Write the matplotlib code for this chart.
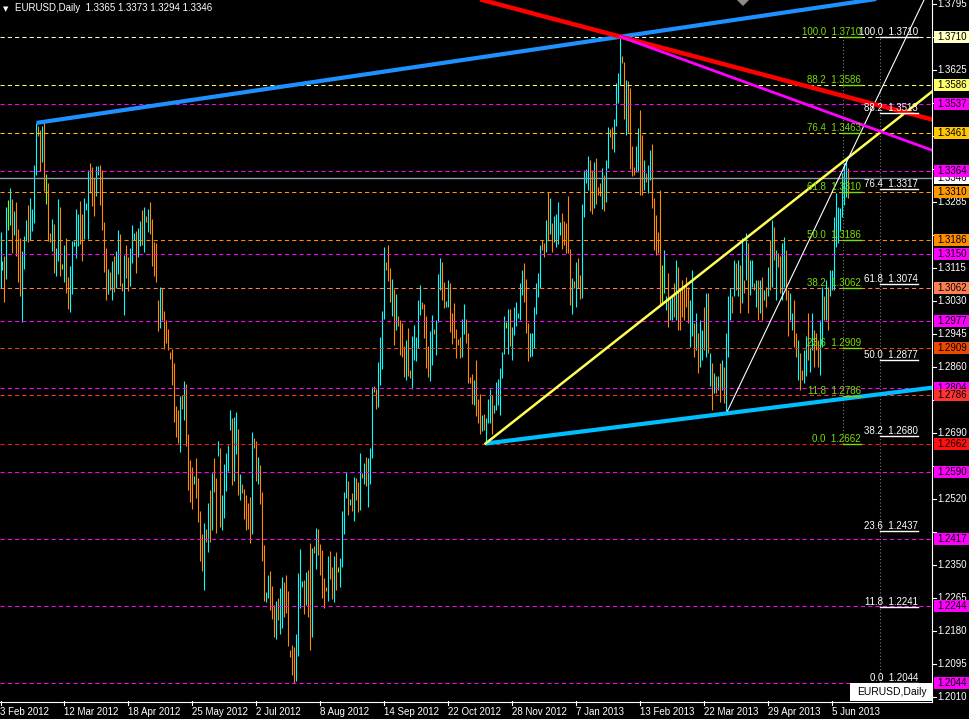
import matplotlib
matplotlib.use("Agg")
import matplotlib.pyplot as plt
from matplotlib.patches import Rectangle, Polygon
from matplotlib.lines import Line2D

# EURUSD daily bars, Feb 2012 - Jun 2013 (high / low)
highs = [
    1.3208, 1.3133, 1.3144, 1.3272, 1.3290, 1.3321, 1.3293, 1.3262, 1.3285, 1.3215,
    1.3192, 1.3159, 1.3197, 1.3239, 1.3277, 1.3295, 1.3267, 1.3380, 1.3488, 1.3479,
    1.3470, 1.3481, 1.3488, 1.3357, 1.3334, 1.3205, 1.3241, 1.3228, 1.3166, 1.3293,
    1.3272, 1.3125, 1.3174, 1.3192, 1.3092, 1.3120, 1.3184, 1.3184, 1.3267, 1.3254,
    1.3288, 1.3254, 1.3295, 1.3282, 1.3367, 1.3385, 1.3375, 1.3347, 1.3378, 1.3378,
    1.3380, 1.3367, 1.3233, 1.3166, 1.3112, 1.3105, 1.3133, 1.3146, 1.3159, 1.3213,
    1.3203, 1.3076, 1.3148, 1.3174, 1.3143, 1.3166, 1.3226, 1.3205, 1.3210, 1.3218,
    1.3236, 1.3264, 1.3272, 1.3249, 1.3267, 1.3285, 1.3241, 1.3182, 1.3179, 1.3032,
    1.3066, 1.3063, 1.3004, 1.2981, 1.2958, 1.2898, 1.2906, 1.2870, 1.2759, 1.2749,
    1.2785, 1.2788, 1.2824, 1.2816, 1.2687, 1.2620, 1.2602, 1.2579, 1.2625, 1.2574,
    1.2489, 1.2429, 1.2458, 1.2442, 1.2509, 1.2543, 1.2587, 1.2625, 1.2573, 1.2669,
    1.2651, 1.2530, 1.2609, 1.2638, 1.2658, 1.2749, 1.2728, 1.2731, 1.2744, 1.2700,
    1.2584, 1.2558, 1.2545, 1.2530, 1.2509, 1.2524, 1.2692, 1.2676, 1.2669, 1.2628,
    1.2607, 1.2537, 1.2401, 1.2280, 1.2323, 1.2334, 1.2295, 1.2246, 1.2256, 1.2264,
    1.2290, 1.2318, 1.2305, 1.2323, 1.2282, 1.2130, 1.2143, 1.2138, 1.2171, 1.2329,
    1.2390, 1.2308, 1.2310, 1.2331, 1.2336, 1.2406, 1.2393, 1.2398, 1.2445, 1.2442,
    1.2403, 1.2388, 1.2316, 1.2293, 1.2372, 1.2385, 1.2344, 1.2372, 1.2383, 1.2344,
    1.2367, 1.2488, 1.2537, 1.2589, 1.2566, 1.2519, 1.2535, 1.2576, 1.2573, 1.2563,
    1.2638, 1.2586, 1.2612, 1.2628, 1.2625, 1.2651, 1.2808, 1.2811, 1.2803, 1.2872,
    1.2937, 1.3004, 1.3169, 1.3130, 1.3174, 1.3115, 1.3086, 1.3061, 1.3048, 1.2991,
    1.2981, 1.2973, 1.2914, 1.2929, 1.2960, 1.2852, 1.2939, 1.2968, 1.2937, 1.3032,
    1.3071, 1.3027, 1.3022, 1.2991, 1.2914, 1.2952, 1.2993, 1.2958, 1.2980, 1.3099,
    1.3140, 1.3130, 1.3078, 1.3029, 1.3084, 1.3076, 1.2999, 1.3024, 1.2957, 1.2932,
    1.2937, 1.2983, 1.3022, 1.2983, 1.2947, 1.2834, 1.2841, 1.2826, 1.2877, 1.2777,
    1.2790, 1.2736, 1.2738, 1.2728, 1.2777, 1.2803, 1.2787, 1.2761, 1.2821, 1.2828,
    1.2857, 1.2898, 1.2991, 1.2975, 1.3009, 1.3009, 1.2962, 1.3014, 1.3027, 1.2999,
    1.3076, 1.3109, 1.3127, 1.3086, 1.2973, 1.2947, 1.2947, 1.3014, 1.3076, 1.3102,
    1.3174, 1.3187, 1.3179, 1.3238, 1.3310, 1.3295, 1.3230, 1.3248, 1.3254, 1.3285,
    1.3233, 1.3256, 1.3236, 1.3230, 1.3300, 1.3163, 1.3089, 1.3081, 1.3130, 1.3140,
    1.3096, 1.3279, 1.3367, 1.3370, 1.3403, 1.3393, 1.3367, 1.3388, 1.3398, 1.3323,
    1.3334, 1.3372, 1.3354, 1.3393, 1.3478, 1.3473, 1.3478, 1.3498, 1.3591, 1.3617,
    1.3710, 1.3661, 1.3645, 1.3599, 1.3596, 1.3578, 1.3429, 1.3375, 1.3429, 1.3475,
    1.3522, 1.3457, 1.3393, 1.3359, 1.3380, 1.3419, 1.3434, 1.3295, 1.3251, 1.3207,
    1.3316, 1.3122, 1.3161, 1.3041, 1.3101, 1.3036, 1.3045, 1.3075, 1.3135, 1.3118,
    1.3058, 1.3084, 1.3066, 1.3092, 1.3066, 1.3032, 1.3109, 1.2972, 1.2998, 1.2946,
    1.2981, 1.2955, 1.3015, 1.3049, 1.3049, 1.2895, 1.2869, 1.2843, 1.2835, 1.2835,
    1.2869, 1.2877, 1.2860, 1.2946, 1.3041, 1.3062, 1.3041, 1.3135, 1.3127, 1.3135,
    1.3122, 1.3191, 1.3084, 1.3204, 1.3178, 1.3135, 1.3135, 1.3075, 1.3084, 1.3084,
    1.3084, 1.3092, 1.3058, 1.3066, 1.3118, 1.3187, 1.3238, 1.3221, 1.3161, 1.3152,
    1.3144, 1.3178, 1.3195, 1.3161, 1.3058, 1.3049, 1.2998, 1.3032, 1.2946, 1.2929,
    1.2895, 1.2852, 1.2903, 1.2938, 1.2998, 1.2912, 1.2998, 1.2955, 1.2946, 1.2929,
    1.2981, 1.3066, 1.3041, 1.3084, 1.3066, 1.3109, 1.3109, 1.3246, 1.3308, 1.3272,
    1.3269, 1.3359, 1.3385, 1.3393, 1.3373,
]
lows = [
    1.3064, 1.3110, 1.3026, 1.3087, 1.3213, 1.3226, 1.3153, 1.3200, 1.3144, 1.3079,
    1.3043, 1.2974, 1.3112, 1.3184, 1.3182, 1.3187, 1.3210, 1.3231, 1.3355, 1.3455,
    1.3365, 1.3388, 1.3313, 1.3280, 1.3184, 1.3182, 1.3159, 1.3102, 1.3094, 1.3133,
    1.3094, 1.3112, 1.3079, 1.3050, 1.3009, 1.3001, 1.3048, 1.3172, 1.3141, 1.3172,
    1.3177, 1.3133, 1.3190, 1.3264, 1.3190, 1.3308, 1.3275, 1.3249, 1.3300, 1.3355,
    1.3277, 1.3213, 1.3105, 1.3032, 1.3048, 1.3058, 1.3032, 1.3053, 1.3063, 1.3099,
    1.3068, 1.3056, 1.2994, 1.3089, 1.3056, 1.3068, 1.3128, 1.3187, 1.3102, 1.3143,
    1.3172, 1.3174, 1.3156, 1.3233, 1.3208, 1.3203, 1.3120, 1.3094, 1.3079, 1.2953,
    1.2960, 1.2981, 1.2906, 1.2922, 1.2904, 1.2880, 1.2813, 1.2718, 1.2679, 1.2664,
    1.2641, 1.2752, 1.2723, 1.2656, 1.2543, 1.2512, 1.2494, 1.2558, 1.2522, 1.2460,
    1.2360, 1.2334, 1.2285, 1.2409, 1.2383, 1.2409, 1.2440, 1.2538, 1.2432, 1.2630,
    1.2447, 1.2439, 1.2470, 1.2540, 1.2591, 1.2697, 1.2555, 1.2566, 1.2635, 1.2530,
    1.2517, 1.2535, 1.2468, 1.2439, 1.2442, 1.2406, 1.2429, 1.2651, 1.2566, 1.2558,
    1.2506, 1.2360, 1.2256, 1.2254, 1.2264, 1.2233, 1.2210, 1.2164, 1.2159, 1.2208,
    1.2171, 1.2187, 1.2215, 1.2226, 1.2141, 1.2112, 1.2066, 1.2044, 1.2050, 1.2115,
    1.2238, 1.2293, 1.2223, 1.2246, 1.2215, 1.2130, 1.2164, 1.2380, 1.2339, 1.2375,
    1.2323, 1.2264, 1.2238, 1.2282, 1.2256, 1.2313, 1.2262, 1.2254, 1.2285, 1.2331,
    1.2293, 1.2344, 1.2429, 1.2522, 1.2478, 1.2504, 1.2488, 1.2463, 1.2517, 1.2486,
    1.2491, 1.2573, 1.2558, 1.2553, 1.2499, 1.2558, 1.2625, 1.2795, 1.2751, 1.2756,
    1.2813, 1.2854, 1.2983, 1.3109, 1.3081, 1.3027, 1.2991, 1.2916, 1.2955, 1.2965,
    1.2890, 1.2885, 1.2834, 1.2826, 1.2836, 1.2831, 1.2803, 1.2878, 1.2875, 1.2908,
    1.2994, 1.3009, 1.2934, 1.2857, 1.2834, 1.2823, 1.2865, 1.2943, 1.2890, 1.2975,
    1.3058, 1.3032, 1.3011, 1.3014, 1.3015, 1.2950, 1.2919, 1.2934, 1.2883, 1.2916,
    1.2883, 1.2885, 1.2944, 1.2921, 1.2818, 1.2818, 1.2764, 1.2761, 1.2733, 1.2715,
    1.2687, 1.2694, 1.2697, 1.2662, 1.2715, 1.2715, 1.2687, 1.2740, 1.2749, 1.2761,
    1.2736, 1.2831, 1.2893, 1.2960, 1.2893, 1.2913, 1.2877, 1.2942, 1.2965, 1.2986,
    1.2980, 1.3045, 1.3027, 1.2947, 1.2875, 1.2885, 1.2888, 1.2908, 1.2996, 1.3040,
    1.3063, 1.3161, 1.3143, 1.3156, 1.3184, 1.3202, 1.3156, 1.3181, 1.3169, 1.3176,
    1.3200, 1.3163, 1.3174, 1.3153, 1.3153, 1.3019, 1.2996, 1.3063, 1.3014, 1.3063,
    1.3035, 1.3037, 1.3246, 1.3334, 1.3315, 1.3261, 1.3254, 1.3269, 1.3279, 1.3303,
    1.3300, 1.3267, 1.3261, 1.3285, 1.3372, 1.3452, 1.3421, 1.3413, 1.3480, 1.3540,
    1.3586, 1.3643, 1.3498, 1.3457, 1.3465, 1.3370, 1.3352, 1.3354, 1.3362, 1.3362,
    1.3303, 1.3303, 1.3316, 1.3336, 1.3308, 1.3341, 1.3269, 1.3161, 1.3148, 1.3153,
    1.3019, 1.3019, 1.3049, 1.3006, 1.2963, 1.2981, 1.2981, 1.2989, 1.2981, 1.2955,
    1.2955, 1.2989, 1.2981, 1.3015, 1.2972, 1.2912, 1.2938, 1.2886, 1.2903, 1.2843,
    1.2860, 1.2877, 1.2903, 1.2886, 1.2895, 1.2809, 1.2749, 1.2792, 1.2792, 1.2800,
    1.2770, 1.2800, 1.2766, 1.2746, 1.2886, 1.2981, 1.2998, 1.3041, 1.3058, 1.3041,
    1.2998, 1.3024, 1.3049, 1.3084, 1.2998, 1.3045, 1.3066, 1.3058, 1.3015, 1.2981,
    1.2998, 1.2981, 1.3032, 1.3015, 1.3041, 1.3058, 1.3066, 1.3135, 1.3032, 1.3118,
    1.3049, 1.3032, 1.3066, 1.3032, 1.2938, 1.2981, 1.2955, 1.2912, 1.2886, 1.2826,
    1.2800, 1.2826, 1.2817, 1.2835, 1.2877, 1.2847, 1.2903, 1.2860, 1.2903, 1.2860,
    1.2839, 1.2912, 1.2981, 1.2981, 1.2955, 1.3041, 1.3058, 1.3058, 1.3169, 1.3179,
    1.3212, 1.3246, 1.3277, 1.3298, 1.3294,
]
# u = up bar, d = down bar, n = doji
dirs = (
    "uudunududd" "duuuduuuud" "dudndduduu" "dnudduuuuu" "dduuuddduu"
    "ddddududuu" "ddudduuudu" "udududdddd" "uddddddddd" "ududdddudd"
    "ddudududdu" "duuuuuduud" "uddddduddu" "ddduudddud" "uudddddduu"
    "uududdudud" "dddduddudn" "uuuudududd" "ududuuuddu" "uuudddudud"
    "dddudduuuu" "udddduuduu" "udduuddddd" "duuddddudd" "duduuuduuu"
    "uuunuduuuu" "uuddduuuuu" "uddududuuu" "udddddudud" "duuuuddudd"
    "duduudduuu" "uddudddduu" "dduduudddd" "dnuuduudud" "ddddduudud"
    "uududududu" "duduuududu" "dududuudud" "ududududud" "duudduuddu"
    "dduuduuddd" "uududuuuuu" "uuuud"
)

date_bars = [0, 32, 64, 96, 128, 160, 192, 224, 256, 288, 320, 352, 384, 416]
date_labels = ["3 Feb 2012", "12 Mar 2012", "18 Apr 2012", "25 May 2012",
               "2 Jul 2012", "8 Aug 2012", "14 Sep 2012", "22 Oct 2012",
               "28 Nov 2012", "7 Jan 2013", "13 Feb 2013", "22 Mar 2013",
               "29 Apr 2013", "5 Jun 2013"]

price_ticks = [1.3795, 1.3710, 1.3625, 1.3540, 1.3455, 1.3370, 1.3285, 1.3200,
               1.3115, 1.3030, 1.2945, 1.2860, 1.2775, 1.2690, 1.2605, 1.2520,
               1.2435, 1.2350, 1.2265, 1.2180, 1.2095, 1.2010]

# horizontal level lines
fib_lines = [1.3710, 1.3586, 1.3461, 1.3310, 1.3186, 1.3062, 1.2909, 1.2786, 1.2662]
fib_colors = ['#FFFFC0', '#FFFF66', '#FFC800', '#FF9A00', '#FF8C00',
              '#FF7F50', '#F04800', '#FF3333', '#FF1010']
magenta_lines = [1.3537, 1.3364, 1.3150, 1.2977, 1.2804, 1.2590, 1.2417, 1.2244, 1.2044]
last_price = 1.3346

fib_levels = [100.0, 88.2, 76.4, 61.8, 50.0, 38.2, 23.6, 11.8, 0.0]
green_fib = (1.2662, 1.3710)
white_fib = (1.2044, 1.3710)

# trend lines: (bar, price) anchor pairs
upper_blue = [(18, 1.3488), (310, 1.3710)]
lower_blue = [(242.5, 1.2662), (363.5, 1.2740)]
yellow_line = [(242.5, 1.2662), (422.25, 1.3392)]
white_line = [(363.5, 1.2746), (416.4, 1.3316)]
red_line = [(310, 1.3710), (465.6, 1.3497)]
magenta_ray = [(310, 1.3710), (465.6, 1.3418)]

# ---- layout (pixels) ----
W, H = 970, 719
CW, CH = 932, 701
PPX = 1 / 3882.0
TOP = 1.38046
BOT = TOP - CH * PPX
FONT = ['Liberation Sans', 'DejaVu Sans']
FS = 7


def bx(px):
    return px / 2.0 - 0.25


def py(px):
    return TOP - px * PPX


def ray(a, b, x_end):
    k = (b[1] - a[1]) / (b[0] - a[0])
    return [a[0], x_end], [a[1], a[1] + k * (x_end - a[0])]


plt.rcParams['font.family'] = FONT
fig = plt.figure(figsize=(W / 100, H / 100), dpi=100, facecolor='black')
ax = fig.add_axes([0, (H - CH) / H, CW / W, CH / H])
ax.set_xlim(-0.25, CW / 2 - 0.25)
ax.set_ylim(BOT, TOP)
ax.axis('off')

# bars
cmap = {'u': '#00FFFF', 'd': '#FF8C00', 'n': '#80FF00'}
ax.vlines(range(len(highs)), lows, highs, colors=[cmap[c] for c in dirs],
          lw=0.8, zorder=2)

# horizontal dashed levels
for p in magenta_lines:
    ax.axhline(p, color='#FF00FF', lw=0.75, ls=(0, (4, 3)), zorder=3)
for p, c in zip(fib_lines, fib_colors):
    ax.axhline(p, color=c, lw=0.75, ls=(0, (4, 3)), zorder=3)
ax.axhline(last_price, color='#8E9AA6', lw=1.0, zorder=3)

# trend lines
x_end = CW / 2
ax.plot(*ray(*upper_blue, x_end), color='#1E90FF', lw=3, zorder=4, solid_capstyle='butt')
ax.plot(*ray(*lower_blue, x_end), color='#00BFFF', lw=3, zorder=4, solid_capstyle='butt')
ax.plot(*ray(*yellow_line, x_end), color='#FFFF55', lw=1.8, zorder=4)
ax.plot(*ray(*white_line, x_end), color='white', lw=0.8, zorder=4)
ax.axline(*red_line, color='#FF0000', lw=3.2, zorder=4)
ax.plot(*ray(*magenta_ray, x_end), color='#FF00FF', lw=2, zorder=4)

# fibonacci labels
for (lo, hi), xs, xe, col in [(green_fib, 843, 861, '#7CDC00'),
                              (white_fib, 880, 918, 'white')]:
    ax.plot([bx(xs), bx(xs)], [lo, hi], color='#7a7a7a', lw=0.8,
            ls=(0, (1, 2)), zorder=3)
    for lv in fib_levels:
        p = lo + (hi - lo) * lv / 100
        ax.plot([bx(xs), bx(xe)], [p, p], color=col, lw=1.0, zorder=5)
        ax.text(bx(xe), p + 2 * PPX, f"{lv:.1f}  {p:.4f}", color=col,
                fontsize=FS, ha='right', va='baseline', zorder=5)

# price axis ticks (labels hidden completely by a level box are left out)
boxed = fib_lines + magenta_lines + [last_price]
for p in price_ticks:
    ax.plot([bx(CW), bx(CW + 4)], [p, p], color='white', lw=0.8, clip_on=False)
    if min(abs(p - q) for q in boxed) / PPX < 7:
        continue
    ax.text(bx(937), p, f"{p:.4f}", color='white', fontsize=FS, ha='left',
            va='center', clip_on=False, zorder=5)


def price_box(p, fc, z):
    ax.add_patch(Rectangle((bx(934), p - 6 * PPX), (970 - 934) / 2, 12 * PPX,
                           facecolor=fc, edgecolor='none', clip_on=False, zorder=z))
    ax.text(bx(937), p, f"{p:.4f}", color='black', fontsize=FS, ha='left',
            va='center', clip_on=False, zorder=z + 0.05)


price_box(last_price, 'white', 6)
for p in magenta_lines:
    price_box(p, '#FF00FF', 6.2)
for p, c in zip(fib_lines, fib_colors):
    price_box(p, c, 6.4)

# date axis
for b, lab in zip(date_bars, date_labels):
    ax.plot([b, b], [BOT, py(CH + 4)], color='white', lw=0.8, clip_on=False)
    ax.text(b, py(712), lab, color='white', fontsize=FS, ha='left',
            va='center', clip_on=False)

# frame lines
fig.add_artist(Line2D([0, CW / W], [1 - (CH + 0.5) / H] * 2, color='white', lw=0.8))
fig.add_artist(Line2D([(CW + 0.5) / W] * 2, [1, 1 - CH / H], color='white', lw=0.8))

# header and symbol box
fig.text(3 / W, 1 - 9 / H, '\u25BC', color='white', fontsize=5, va='center',
         family=['DejaVu Sans'])
fig.text(15 / W, 1 - 8 / H, "EURUSD,Daily  1.3365 1.3373 1.3294 1.3346",
         color='white', fontsize=FS, va='center')
fig.add_artist(Polygon([[737 / W, 1], [749 / W, 1], [743 / W, 1 - 6 / H]],
                       closed=True, facecolor='#8c8c8c', edgecolor='none',
                       transform=fig.transFigure))
fig.add_artist(Rectangle((850 / W, 1 - CH / H), 82 / W, 18.5 / H,
                         facecolor='white', edgecolor='none', transform=fig.transFigure))
fig.text(857 / W, 1 - 692 / H, "EURUSD,Daily", color='black', fontsize=7.5, va='center')

fig.savefig("out.png", dpi=100, facecolor='black')
